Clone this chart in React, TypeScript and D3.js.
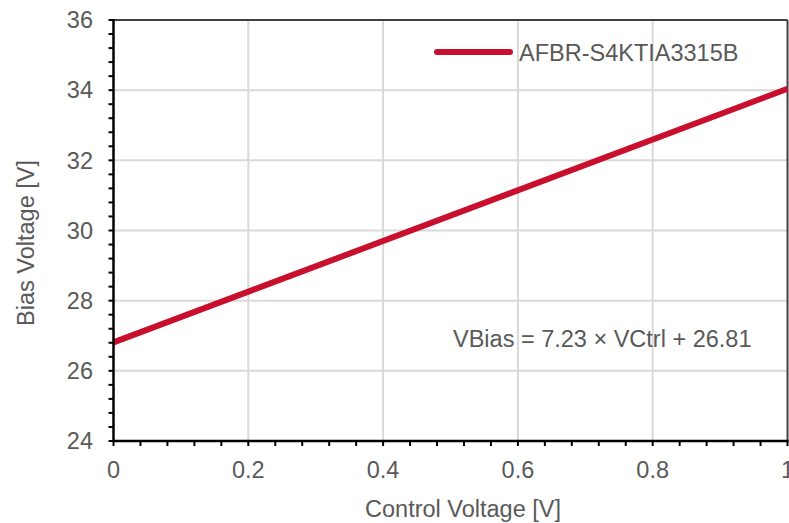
import * as d3 from 'd3';

// data
const controlV = [0, 1];
const biasV = [26.81, 34.04];
const seriesName = 'AFBR-S4KTIA3315B';
const fitLabel = 'VBias = 7.23 × VCtrl + 26.81';
const xTicks = [0, 0.2, 0.4, 0.6, 0.8, 1];
const yTicks = [24, 26, 28, 30, 32, 34, 36];

const W = 789;
const H = 523;
const m = { left: 113.5, right: 787.5, top: 20, bottom: 441 };
const FONT = '"Liberation Sans", Arial, sans-serif';
const FS = 23.5;
const RED = '#C8102E';
const GRAY = '#595959';

export default function App() {
  const x = d3.scaleLinear().domain([0, 1]).range([m.left, m.right]);
  const y = d3.scaleLinear().domain([24, 36]).range([m.bottom, m.top]);

  const xMinor = d3.range(0, 1.0001, 0.04);
  const yMinor = d3.range(24, 36.0001, 0.4);

  const pts = controlV.map((c, i) => [c, biasV[i]] as [number, number]);
  const line = d3
    .line<[number, number]>()
    .x((d) => x(d[0]))
    .y((d) => y(d[1]));

  return (
    <svg
      width={W}
      height={H}
      style={{ position: 'absolute', left: 0, top: 0, background: '#fff' }}
      fontFamily={FONT}
    >
      {/* grid */}
      {xTicks.slice(1, -1).map((t) => (
        <line key={'gx' + t} x1={x(t)} x2={x(t)} y1={m.top} y2={m.bottom} stroke="#d9d9d9" strokeWidth={2} />
      ))}
      {yTicks.slice(1, -1).map((t) => (
        <line key={'gy' + t} x1={m.left} x2={m.right} y1={y(t)} y2={y(t)} stroke="#d9d9d9" strokeWidth={2} />
      ))}

      {/* frame top / right */}
      <line x1={m.left} x2={m.right} y1={m.top} y2={m.top} stroke="#404040" strokeWidth={2} />
      <line x1={m.right} x2={m.right} y1={m.top} y2={m.bottom} stroke="#404040" strokeWidth={2} />

      {/* series */}
      <path d={line(pts) ?? ''} fill="none" stroke={RED} strokeWidth={6} />

      {/* axes */}
      <line x1={m.left} x2={m.right + 1} y1={m.bottom} y2={m.bottom} stroke="#000" strokeWidth={2.5} />
      <line x1={m.left} x2={m.left} y1={m.top - 1} y2={m.bottom + 1} stroke="#000" strokeWidth={2.5} />
      {xMinor.map((t, i) => (
        <line key={'tx' + i} x1={x(t)} x2={x(t)} y1={m.bottom} y2={m.bottom + 5} stroke="#000" strokeWidth={2} />
      ))}
      {yMinor.map((t, i) => (
        <line key={'ty' + i} x1={m.left - 5} x2={m.left} y1={y(t)} y2={y(t)} stroke="#000" strokeWidth={2} />
      ))}

      {/* tick labels */}
      {xTicks.map((t) => (
        <text key={'lx' + t} x={x(t)} y={478} textAnchor="middle" fontSize={FS} fill={GRAY}>
          {d3.format('~g')(t)}
        </text>
      ))}
      {yTicks.map((t) => (
        <text key={'ly' + t} x={93} y={y(t)} dy="0.35em" textAnchor="end" fontSize={FS} fill={GRAY}>
          {t}
        </text>
      ))}

      {/* axis titles */}
      <text x={463} y={517} textAnchor="middle" fontSize={FS} fill={GRAY}>
        Control Voltage [V]
      </text>
      <text transform={`translate(34,243) rotate(-90)`} textAnchor="middle" fontSize={FS} fill={GRAY}>
        Bias Voltage [V]
      </text>

      {/* legend */}
      <line x1={437} x2={510} y1={52} y2={52} stroke={RED} strokeWidth={6} strokeLinecap="round" />
      <text x={519} y={61} fontSize={FS} fill={GRAY}>
        {seriesName}
      </text>

      {/* fit equation */}
      <text x={453} y={347} fontSize={FS} fill={GRAY}>
        {fitLabel}
      </text>
    </svg>
  );
}
